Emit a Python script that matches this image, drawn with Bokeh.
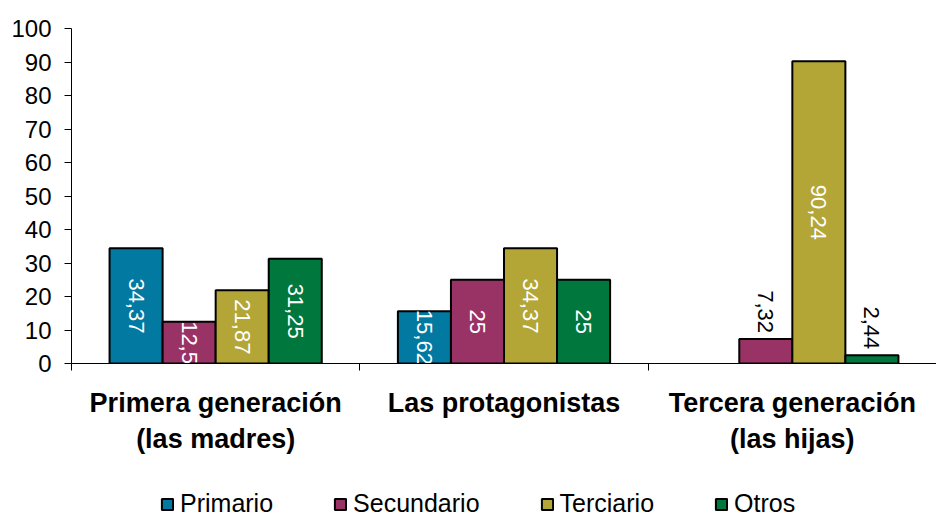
import math
from bokeh.plotting import figure
from bokeh.layouts import column
from bokeh.models import ColumnDataSource, FixedTicker, Range1d, Legend, LegendItem
from bokeh.embed import file_html
from bokeh.resources import INLINE
from bokeh.core.properties import value

categories = ["Primera generación\n(las madres)", "Las protagonistas", "Tercera generación\n(las hijas)"]
series = ["Primario", "Secundario", "Terciario", "Otros"]
primario = [34.37, 15.62, 0]
secundario = [12.5, 25, 7.32]
terciario = [21.87, 34.37, 90.24]
otros = [31.25, 25, 2.44]
colors = ["#0179A0", "#993366", "#B3A636", "#00773D"]
y_ticks = [0, 10, 20, 30, 40, 50, 60, 70, 80, 90, 100]

FONT = "Liberation Sans"
BW = 0.184

p = figure(frame_width=865, frame_height=335, x_range=Range1d(0, 3), y_range=Range1d(0, 100),
           output_backend="svg", toolbar_location=None,
           min_border_left=71, min_border_right=0, min_border_top=28, min_border_bottom=127)
p.grid.visible = False
p.outline_line_color = None
p.background_fill_color = "white"

# legend-only strip below the chart (its bars are hidden; only the legend is shown)
lg = figure(width=936, height=28, x_range=Range1d(100, 101), y_range=Range1d(100, 101),
            output_backend="svg", toolbar_location=None,
            x_axis_location=None, y_axis_location=None, min_border=0)
lg.grid.visible = False
lg.outline_line_color = None

def fmt(v):
    s = ("%g" % v)
    return s.replace(".", ",")

items = []
for j, (name, vals) in enumerate(zip(series, [primario, secundario, terciario, otros])):
    xs, tops, labs_in, ys_in, xs_in, labs_out, ys_out, xs_out = [], [], [], [], [], [], [], []
    for i, v in enumerate(vals):
        if v <= 0:
            continue
        x = i + 0.5 + (j - 1.5) * BW
        xs.append(x); tops.append(v)
        if v >= 10:
            xs_in.append(x); ys_in.append(v / 2); labs_in.append(fmt(v))
        else:
            xs_out.append(x); ys_out.append(v); labs_out.append(fmt(v))
    src = ColumnDataSource(dict(x=xs, top=tops))
    p.vbar(x="x", top="top", width=BW, source=src, fill_color=colors[j],
           line_color="black", line_width=2)
    r = lg.vbar(x="x", top="top", width=BW, source=ColumnDataSource(dict(x=xs, top=tops)),
                fill_color=colors[j], line_color="black", line_width=2)
    r.visible = False
    items.append(LegendItem(label=name, renderers=[r]))
    p.text(x=xs_in, y=ys_in, text=labs_in, angle=-math.pi / 2, text_align="center",
           text_baseline="middle", text_color="white", text_font=value(FONT),
           text_font_size="22px")
    p.text(x=xs_out, y=ys_out, text=labs_out, angle=-math.pi / 2, text_align="right",
           text_baseline="middle", text_color="black", text_font=value(FONT),
           text_font_size="22px", y_offset=-6)

ya = p.yaxis[0]
ya.ticker = FixedTicker(ticks=y_ticks)
ya.major_tick_out = 7
ya.major_tick_in = 0
ya.minor_tick_out = 0
ya.minor_tick_in = 0
ya.axis_line_color = "black"
ya.major_tick_line_color = "black"
ya.major_label_text_font = FONT
ya.major_label_text_font_size = "24px"
ya.major_label_text_color = "black"
ya.major_label_standoff = 13

xa = p.xaxis[0]
xa.ticker = FixedTicker(ticks=[0.5, 1.5, 2.5], minor_ticks=[0, 1, 2, 3])
xa.major_tick_out = 0
xa.major_tick_in = 0
xa.minor_tick_out = 7
xa.minor_tick_in = 0
xa.minor_tick_line_color = "black"
xa.axis_line_color = "black"
xa.major_label_overrides = {0.5: categories[0], 1.5: categories[1], 2.5: categories[2]}
xa.major_label_text_font = FONT
xa.major_label_text_font_style = "bold"
xa.major_label_text_font_size = "27px"
xa.major_label_text_color = "black"
xa.major_label_standoff = 17

legend = Legend(items=items, orientation="horizontal", location=(89, 0),
                border_line_color=None, background_fill_alpha=0,
                label_text_font=FONT, label_text_font_size="25px", label_text_color="black",
                glyph_width=14, glyph_height=14, spacing=60, label_standoff=6,
                margin=0, padding=0, inactive_fill_alpha=0)
lg.add_layout(legend, "center")

open("out.html", "w").write(file_html(column(p, lg, spacing=0), INLINE))
